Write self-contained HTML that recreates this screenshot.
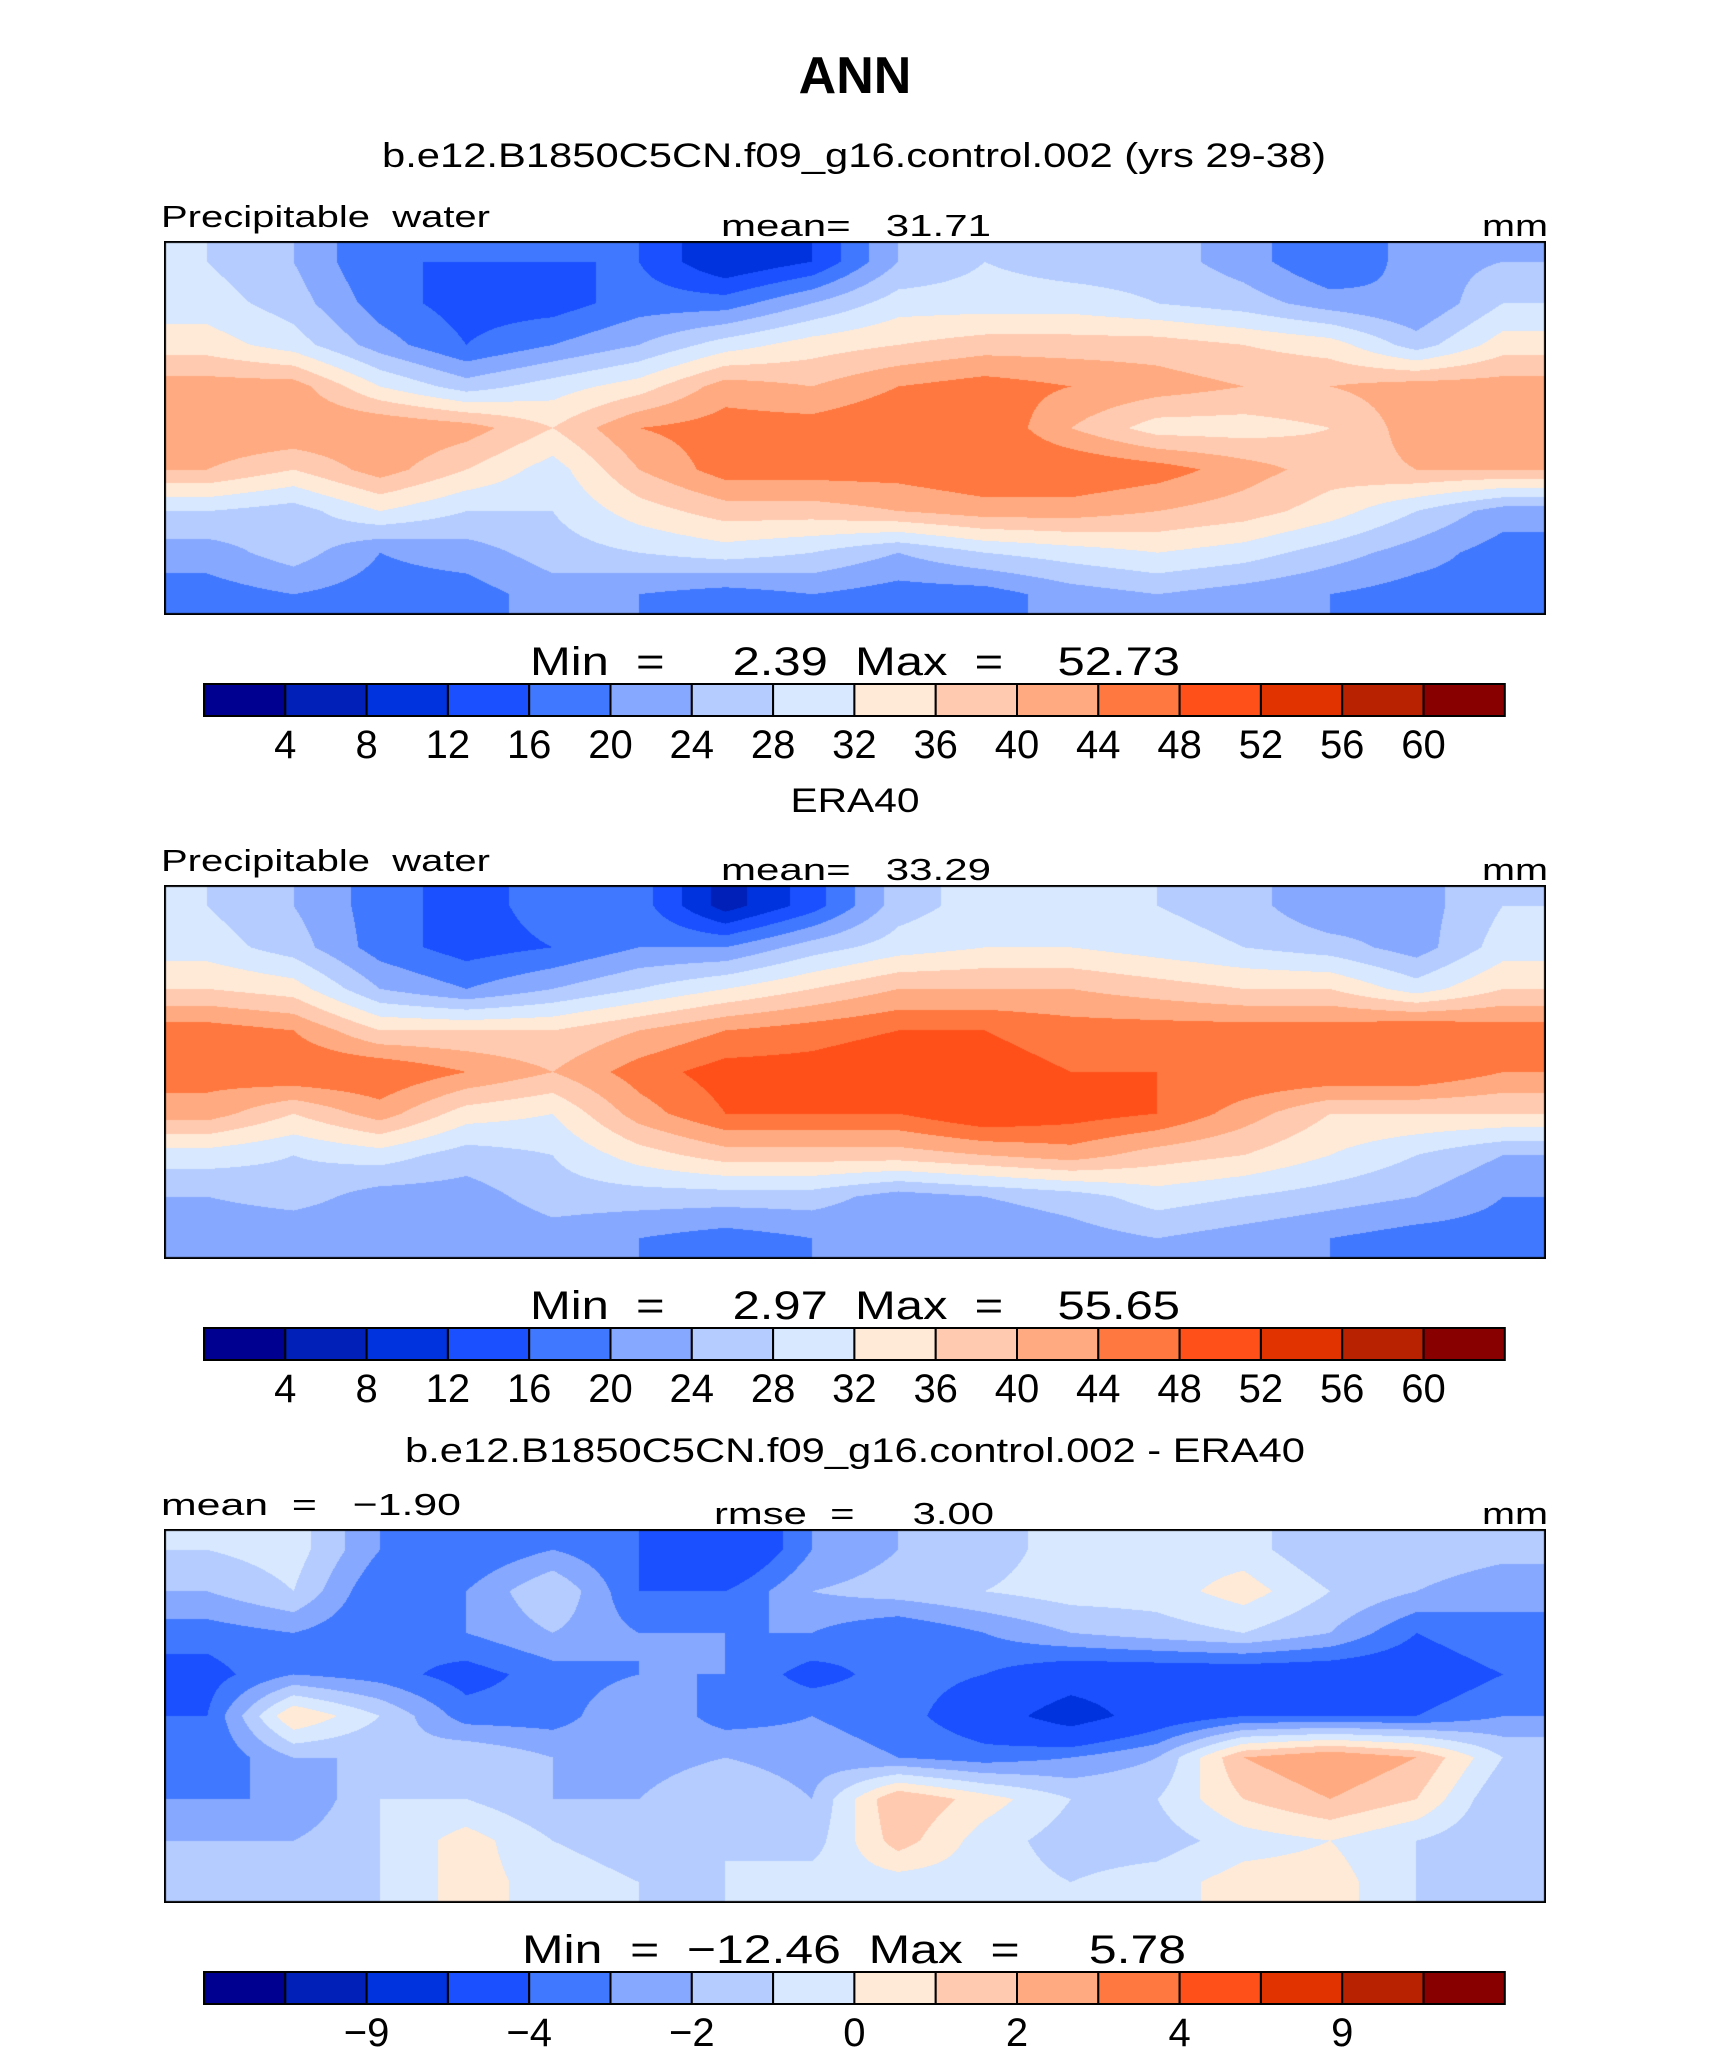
<!DOCTYPE html>
<html><head><meta charset="utf-8"><style>
html,body{margin:0;padding:0;background:#fff;}
#root{position:relative;width:1710px;height:2067px;overflow:hidden;}
canvas{position:absolute;}
svg{position:absolute;left:0;top:0;}
text{font-family:"Liberation Sans",sans-serif;fill:#000;white-space:pre;}
</style></head><body>
<div id="root">
<canvas id="m1" style="left:164px;top:241px" width="1382" height="374"></canvas>
<canvas id="m2" style="left:164px;top:885px" width="1382" height="374"></canvas>
<canvas id="m3" style="left:164px;top:1529px" width="1382" height="374"></canvas>
<svg id="ov" width="1710" height="2067">
<text x="855" y="93" text-anchor="middle" font-size="52" font-weight="bold">ANN</text>
<text x="382" y="167" font-size="34" textLength="944" lengthAdjust="spacingAndGlyphs">b.e12.B1850C5CN.f09_g16.control.002 (yrs 29-38)</text>
<text x="855" y="812" text-anchor="middle" font-size="34" textLength="129" lengthAdjust="spacingAndGlyphs">ERA40</text>
<text x="405" y="1462" font-size="34" textLength="900" lengthAdjust="spacingAndGlyphs">b.e12.B1850C5CN.f09_g16.control.002 - ERA40</text>
</svg>
</div>
<script>
// ---- data ----
const precipLevels=[4,8,12,16,20,24,28,32,36,40,44,48,52,56,60];
const precipLabels=["4","8","12","16","20","24","28","32","36","40","44","48","52","56","60"];
const diffLevels=[-12,-9,-6,-4,-3,-2,-1,0,1,2,3,4,6,9,12];
const diffLabels=["","−9","","−4","","−2","","0","","2","","4","","9",""];
const colors=["#000090","#0020b8","#0033dd","#1a50ff","#4078ff","#86a8ff","#b4ccff","#d8e8ff","#ffead8","#ffcab0","#ffaa80","#ff7840","#ff501a","#e03300","#b82200","#880000"];
const modelGrid=[
[28,24,16,16,16,16,8,12,24,28,26,26,22,16,22,24],
[30,26,18,14,14,18,18,24,30,30,30,28,26,22,20,28],
[34,30,22,16,20,24,30,34,36,38,38,38,36,34,26,34],
[42,42,32,26,30,34,42,40,44,46,44,42,40,40,42,42],
[44,44,44,42,36,44,46,46,48,48,40,34,34,36,42,44],
[40,36,42,36,30,40,46,46,46,48,48,46,42,38,40,40],
[28,26,32,28,28,34,38,38,40,42,42,40,38,34,28,22],
[22,26,20,22,26,28,30,28,24,28,30,32,30,26,22,18],
[18,20,18,18,22,20,18,20,18,18,22,24,22,20,18,18]];
const eraGrid=[
[28,24,18,14,18,18,6,14,26,30,28,28,26,20,22,28],
[30,26,18,14,16,20,20,26,30,32,32,30,28,26,22,30],
[36,34,24,20,24,28,32,36,40,40,40,38,36,36,30,36],
[46,44,36,36,36,40,44,46,48,48,46,46,46,46,48,46],
[46,48,48,44,40,46,50,50,52,50,48,48,48,48,48,44],
[42,36,42,34,32,42,48,48,48,52,50,48,42,36,36,36],
[30,28,30,26,28,34,38,38,38,40,42,38,36,32,28,24],
[24,26,22,22,26,26,26,26,22,24,26,30,28,26,24,20],
[20,20,20,20,22,20,18,20,20,20,22,24,22,20,18,18]];
const diffGrid=[
[-1,-0.5,-3,-4,-3,-4,-6,-3,-2,-1.5,-0.5,-0.5,-0.5,-2,-1,-1.5],
[-2,-1,-4,-3,-1,-4,-4,-2,-1.5,-1,-0.5,-0.5,0.5,-1,-2,-3],
[-3.5,-3,-4,-3,-2,-3,-3,-3,-4,-3,-2,-1.5,-1,-2,-4,-3],
[-4.5,-3,-3.5,-4.5,-3.5,-3,-3,-4.5,-3.5,-4,-5,-5,-5,-5,-5,-4],
[-4,1,-1,-3.5,-3.5,-2,-3.5,-3,-3.5,-5,-7,-5,-4,-4,-4,-3],
[-4,-2,-2,-1,-2,-2.5,-2,-2.5,-3,-3.5,-3,-2,2,3,2,-1],
[-3,-3,-1,-1,-2,-2,-1,-2,2,0.5,-1,-1,1,2,1,-2],
[-2,-2,-1,0.5,-1,-1.5,-1,-1.5,1.5,-0.5,-1.5,-1.5,-0.5,0,-1,-2],
[-2,-1.5,-1,0.5,-0.5,-1,-1,-0.5,-0.5,-0.5,-1,-0.5,0.5,0.5,-1,-1]];
const panelText=[
 {left:"Precipitable  water",center:"mean=   31.71",minmax:"Min  =     2.39  Max  =    52.73"},
 {left:"Precipitable  water",center:"mean=   33.29",minmax:"Min  =     2.97  Max  =    55.65"},
 {left:"mean  =   −1.90",center:"rmse  =     3.00",minmax:"Min  =  −12.46  Max  =     5.78"}];

// ---- rendering ----
function hexRGB(h){return [parseInt(h.substr(1,2),16),parseInt(h.substr(3,2),16),parseInt(h.substr(5,2),16)];}
const rgb=colors.map(hexRGB);
function levelIndex(v,levels){let i=0;while(i<levels.length&&v>=levels[i])i++;return i;}
function drawMap(id,grid,levels){
  const c=document.getElementById(id),ctx=c.getContext('2d');
  const W=c.width,H=c.height,R=grid.length,C=grid[0].length;
  const img=ctx.createImageData(W,H);
  for(let y=0;y<H;y++){
    let gy=(y+0.5)/H*R-0.5;gy=Math.max(0,Math.min(R-1.0001,gy));
    const j=Math.floor(gy),fy=gy-j;
    for(let x=0;x<W;x++){
      let gx=(x+0.5)/W*C-0.5;gx=Math.max(0,Math.min(C-1.0001,gx));
      const i=Math.floor(gx),fx=gx-i;
      const v=(grid[j][i]*(1-fx)+grid[j][i+1]*fx)*(1-fy)+(grid[j+1][i]*(1-fx)+grid[j+1][i+1]*fx)*fy;
      const col=rgb[levelIndex(v,levels)];
      const p=(y*W+x)*4;img.data[p]=col[0];img.data[p+1]=col[1];img.data[p+2]=col[2];img.data[p+3]=255;
    }
  }
  ctx.putImageData(img,0,0);
  ctx.strokeStyle="#000";ctx.lineWidth=2;ctx.strokeRect(1,1,W-2,H-2);
}
drawMap('m1',modelGrid,precipLevels);
drawMap('m2',eraGrid,precipLevels);
drawMap('m3',diffGrid,diffLevels);

const NS="http://www.w3.org/2000/svg",ov=document.getElementById('ov');
function txt(x,y,s,size,anchor,len){
  const t=document.createElementNS(NS,'text');
  t.setAttribute('x',x);t.setAttribute('y',y);t.setAttribute('font-size',size);
  t.setAttribute('text-anchor',anchor||'start');
  if(len){t.setAttribute('textLength',len);t.setAttribute('lengthAdjust','spacingAndGlyphs');}
  t.textContent=s;ov.appendChild(t);return t;
}
const cbX=204,cbW=81.3;
for(let p=0;p<3;p++){
  const off=p*644,pt=panelText[p];
  let t=txt(161,227+off,pt.left,31,'start',p==2?300:329);
  
  
  t=txt(p==2?714:721,236+off,pt.center,31,'start',p==2?280:270);
  
  
  t=txt(1548,236+off,"mm",31,'end',66);
  
  
  t=txt(p==2?522:530,675+off,pt.minmax,40,'start',p==2?664:650);
  
  
  const labels=p==2?diffLabels:precipLabels;
  for(let k=0;k<16;k++){
    const r=document.createElementNS(NS,'rect');
    r.setAttribute('x',cbX+k*cbW);r.setAttribute('y',684+off);r.setAttribute('width',cbW);r.setAttribute('height',32);
    r.setAttribute('fill',colors[k]);r.setAttribute('stroke','#000');r.setAttribute('stroke-width','2');
    
    
    ov.appendChild(r);
  }
  for(let k=0;k<15;k++){
    if(!labels[k])continue;
    t=txt(cbX+(k+1)*cbW,758+off,labels[k],40,'middle');
    
    
  }
}
</script>
</body></html>
